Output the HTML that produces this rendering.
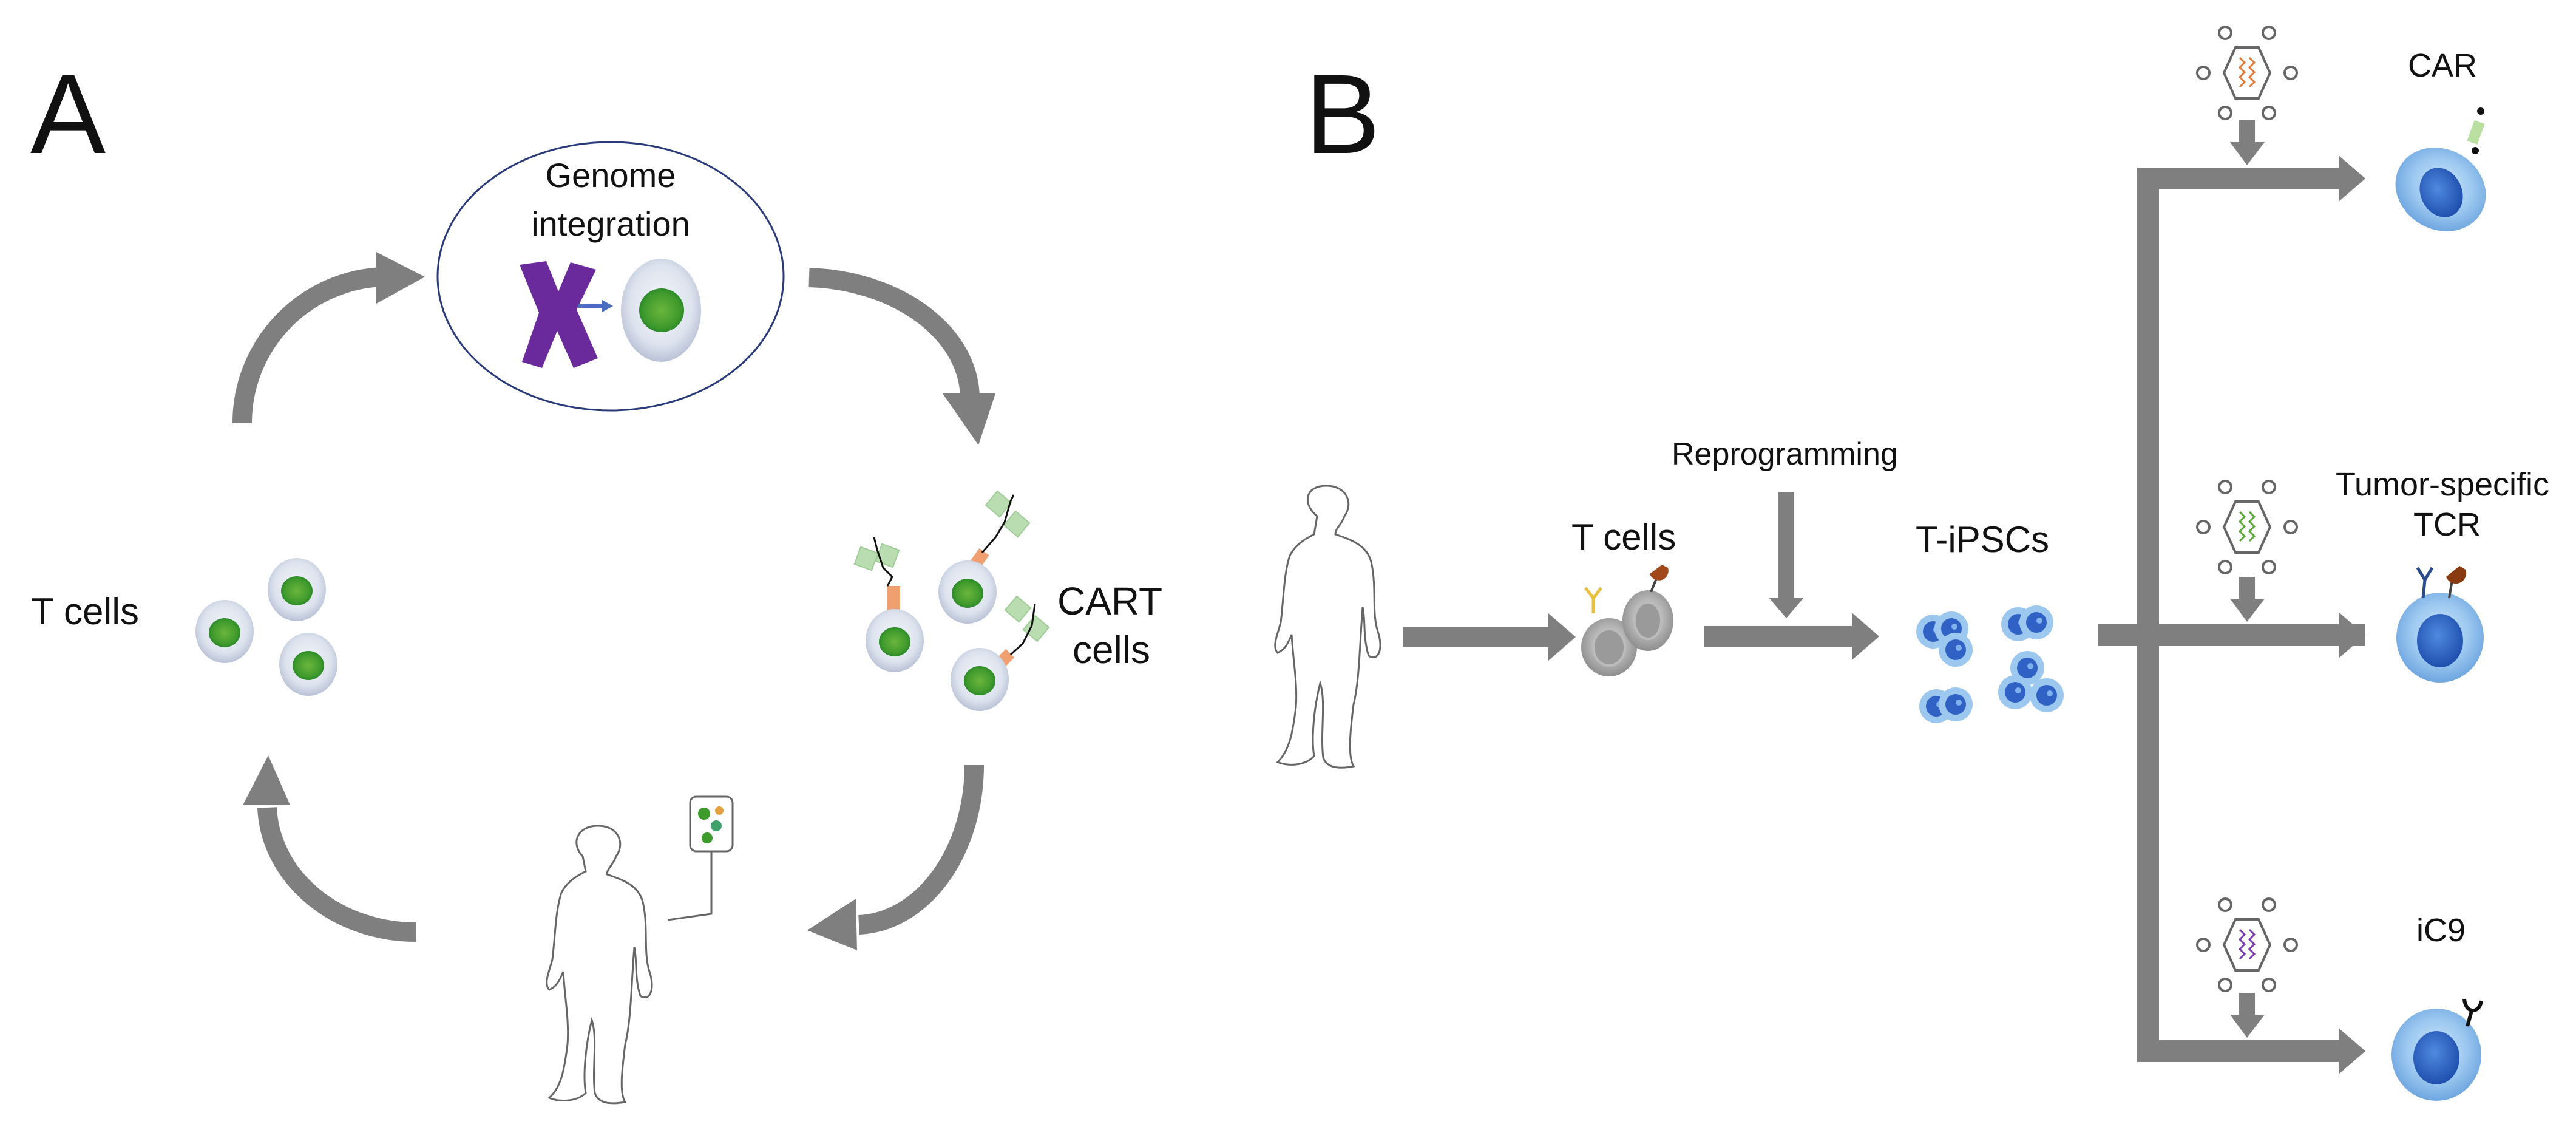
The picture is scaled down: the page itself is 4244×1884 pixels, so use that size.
<!DOCTYPE html>
<html><head><meta charset="utf-8"><style>
html,body{margin:0;padding:0;background:#fff}
svg{display:block}
text{font-family:"Liberation Sans",sans-serif;fill:#111}
</style></head><body>
<svg width="4244" height="1884" viewBox="0 0 4244 1884" xmlns="http://www.w3.org/2000/svg">
<defs>
<radialGradient id="gc" cx="50%" cy="45%" r="55%"><stop offset="0" stop-color="#f4f6fa"/><stop offset="0.7" stop-color="#dde3ee"/><stop offset="1" stop-color="#b9c2d6"/></radialGradient>
<radialGradient id="gn" cx="50%" cy="50%" r="50%"><stop offset="0" stop-color="#6bb53d"/><stop offset="0.8" stop-color="#3f9a2c"/><stop offset="1" stop-color="#2c8a2a"/></radialGradient>
<radialGradient id="bc" cx="50%" cy="45%" r="55%"><stop offset="0" stop-color="#cfe6fb"/><stop offset="0.6" stop-color="#9cc8f0"/><stop offset="1" stop-color="#6fa6e0"/></radialGradient>
<radialGradient id="bn" cx="45%" cy="40%" r="60%"><stop offset="0" stop-color="#4f8ae0"/><stop offset="1" stop-color="#1f4fae"/></radialGradient>
<radialGradient id="gr" cx="50%" cy="45%" r="55%"><stop offset="0" stop-color="#e6e6e6"/><stop offset="1" stop-color="#8e8e8e"/></radialGradient>
<g id="tcell"><ellipse cx="0" cy="0" rx="48" ry="52" fill="url(#gc)"/><ellipse cx="0" cy="2" rx="26" ry="24" fill="url(#gn)"/></g>
<g id="ips"><circle r="28" fill="#9cc8f0"/><circle r="17" fill="#2f62c4"/><circle cx="5" cy="-3" r="5" fill="#7fb0ee"/></g>
<g id="hex" fill="none" stroke="#666" stroke-width="4">
<polygon points="-38,0 -19,-42 19,-42 38,0 19,42 -19,42"/>
<circle cx="-36" cy="-66" r="10"/><circle cx="36" cy="-66" r="10"/><circle cx="-72" cy="0" r="10"/><circle cx="72" cy="0" r="10"/><circle cx="-36" cy="66" r="10"/><circle cx="36" cy="66" r="10"/>
</g>
</defs>

<!-- Panel A -->
<text x="50" y="252" font-size="186">A</text>
<ellipse cx="1006" cy="455" rx="285" ry="221" fill="#fff" stroke="#2a3a7a" stroke-width="3"/>
<text x="1006" y="308" font-size="56" text-anchor="middle">Genome</text>
<text x="1006" y="388" font-size="56" text-anchor="middle">integration</text>
<path d="M856,436 L900,430 L920,480 L940,432 L982,444 L950,510 L985,590 L945,606 L918,545 L893,606 L860,596 L888,515 Z" fill="#6a2a9c"/>
<line x1="952" y1="504" x2="995" y2="504" stroke="#4a6fc0" stroke-width="6"/>
<polygon points="992,494 1010,504 992,514" fill="#4a6fc0"/>
<ellipse cx="1089" cy="511" rx="66" ry="85" fill="url(#gc)"/>
<ellipse cx="1090" cy="511" rx="37" ry="36" fill="url(#gn)"/>

<g fill="none" stroke="#7f7f7f" stroke-width="32">
<path d="M399,697 A241,241 0 0 1 630,456"/>
<path d="M1333,457 A277,200 0 0 1 1598,655"/>
<path d="M1605,1260 A196,263 0 0 1 1415,1523"/>
<path d="M685,1535 A245,213 0 0 1 440,1330"/>
</g>
<g fill="#7f7f7f">
<polygon points="620,415 700,456 620,500"/>
<polygon points="1553,648 1640,648 1612,733"/>
<polygon points="1410,1480 1330,1532 1412,1565"/>
<polygon points="400,1326 478,1326 442,1244"/>
</g>

<text x="51" y="1028" font-size="62">T cells</text>
<use href="#tcell" x="370" y="1040"/>
<use href="#tcell" x="489" y="971"/>
<use href="#tcell" x="508" y="1094"/>

<!-- CART cells -->
<g>
<rect x="1461" y="965" width="22" height="44" fill="#f0a070"/>
<rect x="1600" y="905" width="20" height="40" fill="#f0a070" transform="rotate(35 1610 925)"/>
<rect x="1640" y="1070" width="20" height="40" fill="#f0a070" transform="rotate(45 1650 1090)"/>
<use href="#tcell" x="1474" y="1055"/>
<use href="#tcell" x="1594" y="975"/>
<use href="#tcell" x="1614" y="1119"/>
<g fill="#b9ddb0" stroke="#a0cc98" stroke-width="2">
<rect x="1412" y="905" width="30" height="30" transform="rotate(20 1427 920)"/>
<rect x="1447" y="900" width="30" height="30" transform="rotate(20 1462 915)"/>
<rect x="1630" y="815" width="30" height="30" transform="rotate(40 1645 830)"/>
<rect x="1660" y="848" width="30" height="30" transform="rotate(40 1675 863)"/>
<rect x="1662" y="988" width="30" height="30" transform="rotate(40 1677 1003)"/>
<rect x="1692" y="1020" width="30" height="30" transform="rotate(40 1707 1035)"/>
</g>
<g fill="none" stroke="#111" stroke-width="3">
<path d="M1462,965 L1470,950 L1455,935 L1445,905 L1440,885"/>
<path d="M1618,910 L1640,885 L1655,860 L1665,825 L1670,815"/>
<path d="M1665,1078 L1685,1060 L1700,1030 L1705,995"/>
</g>
</g>
<text x="1742" y="1012" font-size="64">CART</text>
<text x="1767" y="1092" font-size="64">cells</text>

<!-- Patient A -->
<g fill="none" stroke="#666" stroke-width="3">
<path d="M960,1410 C940,1390 950,1360 985,1360 C1020,1360 1030,1390 1015,1410 C1010,1425 1000,1430 1000,1440 C1030,1450 1055,1460 1060,1490 C1068,1530 1060,1570 1070,1600 C1080,1630 1070,1650 1055,1640 C1045,1610 1050,1580 1045,1560 C1040,1620 1040,1680 1030,1720 C1025,1760 1020,1800 1030,1815 C1000,1820 985,1815 980,1800 C975,1760 985,1710 975,1680 C965,1720 960,1770 965,1800 C950,1815 920,1815 905,1808 C925,1790 930,1760 935,1720 C938,1680 930,1640 928,1600 C920,1620 915,1625 905,1630 C895,1620 905,1600 910,1580 C915,1540 915,1500 925,1470 C935,1450 955,1440 965,1435 Z"/>
<rect x="1137" y="1312" width="70" height="90" rx="10"/>
<path d="M1172,1402 L1172,1505 L1100,1515"/>
</g>
<circle cx="1160" cy="1340" r="10" fill="#3f9a2c"/><circle cx="1180" cy="1360" r="9" fill="#3fa06a"/><circle cx="1165" cy="1380" r="9" fill="#3f9a2c"/><circle cx="1185" cy="1335" r="7" fill="#e0a040"/>

<!-- Panel B -->
<text x="2150" y="252" font-size="186">B</text>
<g fill="none" stroke="#666" stroke-width="3">
<path d="M2170,850 C2145,830 2150,800 2185,800 C2220,800 2230,830 2215,850 C2210,865 2200,870 2200,880 C2230,890 2255,900 2260,930 C2268,970 2260,1010 2270,1040 C2280,1070 2270,1090 2255,1080 C2245,1050 2250,1020 2245,1000 C2240,1060 2240,1120 2230,1160 C2225,1200 2220,1245 2230,1262 C2200,1268 2185,1262 2180,1248 C2175,1205 2185,1155 2175,1125 C2165,1165 2160,1215 2165,1245 C2150,1262 2120,1262 2105,1255 C2125,1235 2130,1205 2135,1165 C2138,1125 2130,1085 2128,1045 C2120,1065 2115,1070 2105,1075 C2095,1065 2105,1045 2110,1025 C2115,985 2115,945 2125,915 C2135,895 2155,885 2165,880 Z"/>
</g>
<g fill="#7f7f7f">
<rect x="2312" y="1032" width="242" height="34"/><polygon points="2551,1010 2596,1049 2551,1088"/>
<rect x="2808" y="1031" width="245" height="34"/><polygon points="3051,1009 3096,1048 3051,1087"/>
<rect x="2930" y="811" width="26" height="178"/><polygon points="2914,984 2972,984 2943,1018"/>
<rect x="3456" y="1028" width="440" height="36"/>
<rect x="3521" y="276" width="36" height="1473"/>
<rect x="3521" y="276" width="340" height="36"/><polygon points="3853,256 3897,294 3853,332"/>
<polygon points="3853,1008 3897,1046 3853,1084"/>
<rect x="3521" y="1713" width="340" height="36"/><polygon points="3853,1693 3897,1731 3853,1769"/>
<rect x="3689" y="198" width="26" height="40"/><polygon points="3674,234 3731,234 3702,272"/>
<rect x="3689" y="950" width="26" height="40"/><polygon points="3674,986 3731,986 3702,1024"/>
<rect x="3689" y="1635" width="26" height="40"/><polygon points="3674,1671 3731,1671 3702,1709"/>
</g>
<text x="2589" y="905" font-size="60">T cells</text>
<text x="2754" y="765" font-size="52">Reprogramming</text>
<text x="3156" y="909" font-size="60">T-iPSCs</text>
<ellipse cx="2651" cy="1066" rx="46" ry="48" fill="url(#gr)"/><ellipse cx="2651" cy="1066" rx="26" ry="30" fill="#9a9a9a" stroke="#bbb" stroke-width="4"/>
<ellipse cx="2715" cy="1022" rx="42" ry="50" fill="url(#gr)"/><ellipse cx="2715" cy="1022" rx="22" ry="30" fill="#9a9a9a" stroke="#bbb" stroke-width="4"/>
<path d="M2625,1010 L2625,985 M2625,985 L2612,968 M2625,985 L2638,968" stroke="#e8c040" stroke-width="5" fill="none"/>
<path d="M2720,975 L2730,950" stroke="#444" stroke-width="4"/><path d="M2718,945 A14,14 0 1 0 2748,935 L2738,930 Z" fill="#a0481a"/>
<use href="#ips" x="3185" y="1040"/><use href="#ips" x="3215" y="1035"/><use href="#ips" x="3222" y="1070"/>
<use href="#ips" x="3325" y="1028"/><use href="#ips" x="3355" y="1025"/>
<use href="#ips" x="3340" y="1100"/><use href="#ips" x="3320" y="1140"/><use href="#ips" x="3372" y="1145"/>
<use href="#ips" x="3190" y="1163"/><use href="#ips" x="3222" y="1160"/>

<use href="#hex" x="3702" y="120"/>
<path d="M3690,95 l8,8 l-8,8 l8,8 l-8,8 l8,8 l-8,8 M3706,95 l8,8 l-8,8 l8,8 l-8,8 l8,8 l-8,8" fill="none" stroke="#e07a3a" stroke-width="3"/>
<use href="#hex" x="3702" y="868"/>
<path d="M3690,843 l8,8 l-8,8 l8,8 l-8,8 l8,8 l-8,8 M3706,843 l8,8 l-8,8 l8,8 l-8,8 l8,8 l-8,8" fill="none" stroke="#5aa83a" stroke-width="3"/>
<use href="#hex" x="3702" y="1556"/>
<path d="M3690,1531 l8,8 l-8,8 l8,8 l-8,8 l8,8 l-8,8 M3706,1531 l8,8 l-8,8 l8,8 l-8,8 l8,8 l-8,8" fill="none" stroke="#7a3ab0" stroke-width="3"/>

<text x="3967" y="126" font-size="54">CAR</text>
<text x="3848" y="816" font-size="54">Tumor-specific</text>
<text x="3976" y="882" font-size="54">TCR</text>
<text x="3981" y="1550" font-size="54">iC9</text>

<ellipse cx="4021" cy="312" rx="77" ry="66" fill="url(#bc)" transform="rotate(30 4021 312)"/>
<ellipse cx="4022" cy="317" rx="34" ry="42" fill="url(#bn)" transform="rotate(-25 4022 317)"/>
<rect x="4070" y="200" width="18" height="36" fill="#b9e0a0" transform="rotate(20 4079 218)"/>
<circle cx="4087" cy="183" r="6" fill="#111"/><circle cx="4078" cy="248" r="6" fill="#111"/>

<ellipse cx="4020" cy="1050" rx="72" ry="74" fill="url(#bc)"/>
<ellipse cx="4020" cy="1055" rx="38" ry="44" fill="url(#bn)"/>
<path d="M3992,985 L3995,955 M3995,955 L3983,935 M3995,955 L4007,935" stroke="#2a4a8a" stroke-width="5" fill="none"/>
<path d="M4035,985 L4040,955" stroke="#444" stroke-width="4"/><path d="M4030,950 A14,14 0 1 0 4062,938 L4052,932 Z" fill="#8a3a10"/>

<ellipse cx="4014" cy="1737" rx="74" ry="76" fill="url(#bc)"/>
<ellipse cx="4014" cy="1742" rx="38" ry="44" fill="url(#bn)"/>
<path d="M4065,1690 L4072,1665 M4060,1645 C4062,1670 4085,1670 4088,1648" stroke="#111" stroke-width="6" fill="none"/>
</svg>
</body></html>
